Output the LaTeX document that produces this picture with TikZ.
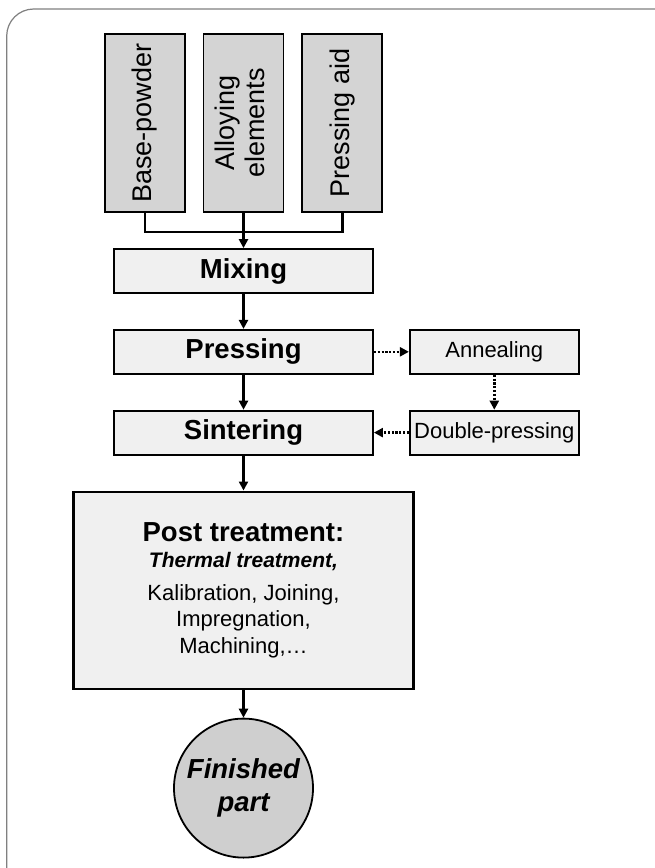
\documentclass[tikz,border=0pt]{standalone}
\usepackage{fontspec}
\setmainfont{Liberation Sans}
\usetikzlibrary{shapes,arrows.meta,positioning}

\begin{document}
\begin{tikzpicture}[x=1pt, y=-1pt,
    block/.style={rectangle, draw, line width=1.8pt, fill=gray!12, minimum width=259pt, minimum height=44pt, inner sep=0pt, font=\fontsize{27.5}{30}\selectfont\bfseries},
    sidebox/.style={block, minimum width=169pt, font=\fontsize{22}{26}\selectfont},
    input/.style={rectangle, draw, line width=1.8pt, fill=gray!34, minimum width=80pt, minimum height=178pt, inner sep=0pt, font=\fontsize{27}{30}\selectfont},
    flow/.style={line width=2.4pt, -{Triangle[length=9pt,width=9pt]}},
    extra/.style={flow, dash pattern=on 2.2pt off 1.6pt},
    node distance=35pt
]
    \useasboundingbox (0,0) rectangle (655,868);
    \begin{scope}
        \clip (0,0) rectangle (655,868);
        \draw[gray, line width=1.2pt, rounded corners=27pt] (6.7,9) rectangle (700,910);
    \end{scope}

    \node[block] (mix) at (243.5,271) {Mixing};
    \node[input, above=35pt of mix] (alloy) {\rotatebox{90}{\begin{tabular}{@{}c@{}}Alloying\\elements\end{tabular}}};
    \node[input, left=17pt of alloy] (base) {\rotatebox{90}{Base-powder}};
    \node[input, right=17pt of alloy] (aid) {\rotatebox{90}{Pressing aid}};

    \node[block, below=of mix] (press) {Pressing};
    \node[block, below=of press] (sinter) {Sintering};
    \node[sidebox, right=of press] (anneal) {Annealing};
    \node[sidebox, right=of sinter] (dpress) {Double-pressing};

    \node[block, below=of sinter, minimum width=340pt, minimum height=197pt, line width=2.2pt, align=center, font=\fontsize{22}{26.5}\selectfont] (post) {%
        {\fontsize{27.5}{27}\selectfont\bfseries Post treatment:}\\
        {\fontsize{21}{27}\selectfont\bfseries\itshape Thermal treatment,}\\[6pt]
        Kalibration, Joining,\\
        Impregnation,\\
        Machining,\ldots};
    \node[circle, draw, line width=1.8pt, fill=gray!38, minimum size=139pt, inner sep=0pt, align=center, font=\fontsize{27.5}{33}\selectfont\bfseries\itshape, below=28pt of post] (part) {Finished\\part};

    % inputs merge into mixing
    \draw[line width=2.4pt] (base.south) -- ++(0,19) -| (aid.south);
    \draw[flow] (alloy.south) -- (mix.north);

    % main route
    \draw[flow] (mix) -- (press);
    \draw[flow] (press) -- (sinter);
    \draw[flow] (sinter) -- (post);
    \draw[flow] (post) -- (part);

    % optional route
    \draw[extra] (press) -- (anneal);
    \draw[extra] (anneal) -- (dpress);
    \draw[extra] (dpress) -- (sinter);
\end{tikzpicture}
\end{document}
